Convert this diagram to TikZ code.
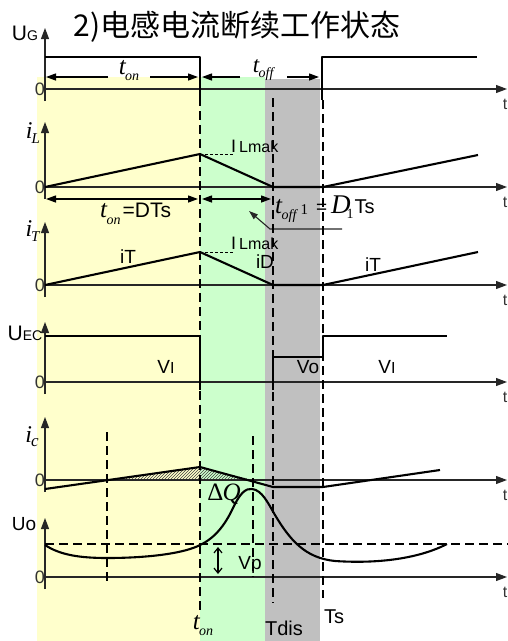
\documentclass[tikz,border=0pt]{standalone}
\usepackage{fontspec}
\setmainfont{Liberation Serif}
\setsansfont{Liberation Sans}
\newfontfamily\cjkfont{Noto Sans CJK SC}
\usetikzlibrary{arrows.meta,patterns}
\definecolor{ybg}{HTML}{FFFFCC}
\definecolor{gbg}{HTML}{CCFFCC}
\definecolor{grbg}{HTML}{C0C0C0}
\definecolor{zerocol}{HTML}{333333}
\newcommand\fs[1]{\fontsize{#1}{#1}\selectfont}
\tikzset{
  axisline/.style={line width=1.1pt, draw=black!85},
  axarrow/.style={axisline, -{Triangle[length=11pt,width=8pt]}},
  wave/.style={line width=2.1pt, line join=round},
  vdash/.style={line width=2.1pt, dash pattern=on 9pt off 5pt},
  hdash/.style={line width=0.9pt, dash pattern=on 3pt off 2pt},
  dimarrow/.style={line width=1.3pt, -{Triangle[length=10pt,width=7pt]}},
  dimboth/.style={line width=1.3pt, {Triangle[length=10pt,width=7pt]}-{Triangle[length=10pt,width=7pt]}},
  lab/.style={inner sep=0pt, font=\sffamily\fs{19}},
  zerolab/.style={inner sep=0pt, text=zerocol, font=\sffamily\fs{18}},
  tlab/.style={inner sep=0pt, text=zerocol, font=\sffamily\fs{16}},
}
\begin{document}
\begin{tikzpicture}[x=1pt,y=-1pt]
\useasboundingbox (0,0) rectangle (508,641);
% backgrounds
\fill[ybg] (37,77) rectangle (200,641);
\fill[gbg] (200,77) rectangle (265,641);
\fill[grbg] (265,79) rectangle (320,641);
% hatch
\fill[pattern=north east lines, pattern color=black!75] (107,480) -- (200,467) -- (253,480) -- cycle;
% title
\node[inner sep=0pt, font=\cjkfont\fs{30}] (title) at (237,27) {2)电感电流断续工作状态};
% axes
\foreach \z/\tp/\nm in {89/28/a, 187/122/b, 285/222/c, 382/322/d, 480/417/e, 577/518/f}{
  \draw[axarrow] (45,{\z+12}) -- (45,\tp);
  \draw[axarrow] (45,\z) -- (507,\z);
  \node[zerolab] (zero\nm) at (40,\z) {0};
  \node[tlab] (t\nm) at (505,{\z+15}) {t};
}
% axis labels
\node[inner sep=0pt] (lUG) at (25,33) {\sffamily\fs{21}U\fs{14}G};
\node[inner sep=0pt] (liL) at (33,133) {\fs{24}\textit{i}\kern-1pt\raisebox{-5pt}{\fs{15}\textit{L}}};
\node[inner sep=0pt] (liT) at (33,231) {\fs{24}\textit{i}\kern-1pt\raisebox{-5pt}{\fs{15}\textit{T}}};
\node[inner sep=0pt] (lUEC) at (25,333) {\sffamily\fs{21}U\fs{14}EC};
\node[inner sep=0pt] (liC) at (32,437) {\fs{24}\textit{i}\kern-1pt\raisebox{-4pt}{\fs{17}\textit{c}}};
\node[inner sep=0pt] (lUo) at (24,524) {\sffamily\fs{19}Uo};
% UG waveform
\draw[wave] (45,57) -- (200,57) -- (200,97);
\draw[wave] (322,100) -- (322,57) -- (477,57);
% ton / toff arrows
\draw[dimarrow] (108,77) -- (46,77);
\draw[dimarrow] (150,77) -- (198,77);
\draw[dimarrow] (240,77) -- (202,77);
\draw[dimarrow] (287,77) -- (319,77);
\node[inner sep=0pt] (lton) at (129,71) {\fs{25}\textit{t}\kern-1pt\raisebox{-6pt}{\fs{14}\textit{on}}};
\node[inner sep=0pt] (ltoff) at (264,70) {\fs{23}\textit{t}\kern-1pt\raisebox{-5pt}{\fs{14}\textit{off}}};
% iL
\draw[wave] (45,187) -- (200,154) -- (273,187) -- (323,187) -- (478,155);
\draw[hdash] (200,154) -- (234,154);
\node[inner sep=0pt, anchor=west] (lIL1) at (231,146) {\sffamily\fs{18}I\,\fs{16}Lmak};
\draw[dimboth] (46,199) -- (198,199);
\draw[dimboth] (202,199) -- (271,199);
\node[inner sep=0pt, anchor=west] (ltonD) at (100,214) {\fs{25}\textit{t}\kern-1pt\raisebox{-7pt}{\fs{14}\textit{on}}\hspace{2pt}{\sffamily\fs{21}=DTs}};
\node[inner sep=0pt, anchor=west] (ltoffD) at (275,209) {\fs{25}\textit{t}\kern-1pt\raisebox{-6pt}{\fs{14}\textit{off}}\raisebox{-1pt}{\fs{15}\,1}\hspace{8pt}{\sffamily\fs{19}=}\hspace{4pt}{\fs{27}\textit{D}}\kern-4pt\raisebox{-5pt}{\fs{14}1}\kern1pt{\sffamily\fs{20}Ts}};
\coordinate (ld1) at (342,229);
\coordinate (ld2) at (270,229);
\coordinate (ld3) at (249,211);
\draw[line width=1.1pt, draw=black!85, -{Triangle[length=9pt,width=6pt]}] (ld1) -- (ld2) -- (ld3);
% iT
\draw[wave] (45,285) -- (200,252) -- (273,285) -- (323,285) -- (478,252);
\draw[hdash] (200,252) -- (234,252);
\node[inner sep=0pt, anchor=west] (lIL2) at (231,243) {\sffamily\fs{18}I\,\fs{16}Lmak};
\node[lab] (liT1) at (128,257) {iT};
\node[lab] (liD) at (265,262) {iD};
\node[lab] (liT2) at (373,265) {iT};
% UEC
\draw[wave] (45,336) -- (200,336) -- (200,390);
\draw[wave] (273,390) -- (273,357) -- (323,357) -- (323,336) -- (447,336);
\node[lab] (lVI1) at (166,367) {V\fs{16}I};
\node[lab] (lVo) at (308,367) {Vo};
\node[lab] (lVI2) at (387,367) {V\fs{16}I};
% ic
\draw[wave] (45,489) -- (200,467) -- (273,487) -- (323,487) -- (440,470);
% Uo
\draw[vdash] (45,544) -- (508,544);
\draw[wave] (45,545) .. controls (60,555) and (80,558) .. (107,558)
  .. controls (150,558) and (185,553) .. (200,545)
  .. controls (215,538) and (225,525) .. (233,508)
  .. controls (240,493) and (246,488) .. (252,489)
  .. controls (262,490) and (268,503) .. (275,515)
  .. controls (290,540) and (305,558) .. (335,561)
  .. controls (380,564) and (420,558) .. (447,544);
\draw[line width=1.2pt, {Straight Barb[length=5pt,width=8pt]}-{Straight Barb[length=5pt,width=8pt]}] (218,547) -- (218,574);
\node[lab] (lVp) at (250,565) {Vp};
\node[inner sep=0pt] (ldQ) at (224,494) {\fs{25}Δ\kern-1pt\textit{Q}};
% dashed verticals
\draw[vdash] (200,97) -- (200,612);
\draw[vdash] (273,98) -- (273,603);
\draw[vdash] (323,100) -- (323,598);
\draw[vdash] (107,432) -- (107,585);
\draw[vdash] (253,436) -- (253,577);
% bottom labels
\node[inner sep=0pt] (lton2) at (203,626) {\fs{25}\textit{t}\kern-1pt\raisebox{-6pt}{\fs{14}\textit{on}}};
\node[lab, font=\sffamily\fs{20}] (lTdis) at (284,628) {Tdis};
\node[lab, font=\sffamily\fs{20}] (lTs) at (334,617) {Ts};
\end{tikzpicture}
\end{document}
